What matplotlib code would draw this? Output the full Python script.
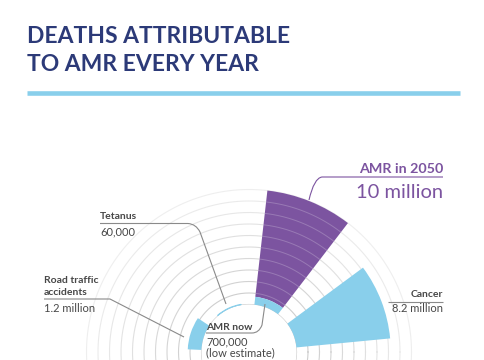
import numpy as np
import matplotlib
matplotlib.use('Agg')
import matplotlib.pyplot as plt
from matplotlib.path import Path
from matplotlib.patches import PathPatch

plt.rcParams['font.family'] = ['Lato', 'DejaVu Sans']

# data (deaths per year, millions)
categories = ['Cancer', 'AMR in 2050', 'Tetanus', 'Road traffic accidents']
deaths_m = [8.2, 10.0, 0.06, 1.2]
amr_now_m = 0.7
labels = ['Cancer', 'AMR in 2050', 'Tetanus', 'Road traffic\naccidents']
value_labels = ['8.2 million', '10 million', '60,000', '1.2 million']

BLUE = '#89cfeb'
PURPLE = '#7c54a0'
NAVY = '#2c3a78'
GREY_TXT = '#474747'
LEAD = '#8a8a8a'

W, H = 485, 360
fig = plt.figure(figsize=(W / 100, H / 100), dpi=100)

# polar axes geometry in pixels
cx, cy = 249, 352          # centre (y from top)
px_per_m = 11.5
r0_px = 47.5
rmax = 10.5
rorig = -r0_px / px_per_m
R = (rmax - rorig) * px_per_m
ax = fig.add_axes([(cx - R) / W, (H - cy - R) / H, 2 * R / W, 2 * R / H],
                  projection='polar')
ax.set_ylim(0, rmax)
ax.set_rorigin(rorig)
ax.set_axis_off()

theta = np.deg2rad(21 + 47 * np.arange(len(categories)))
width = np.deg2rad(31)

# grid rings, fading outwards
t = np.linspace(0, 2 * np.pi, 400)
for k in range(0, 11):
    a = 0.95 - 0.065 * k
    ax.plot(t, np.full_like(t, k), color='#c8c8c8', lw=0.8, alpha=a, zorder=1)

bottoms = [0, amr_now_m, 0, 0]
heights = [v - b for v, b in zip(deaths_m, bottoms)]
colors = [BLUE, PURPLE, BLUE, BLUE]
ax.bar(theta, heights, width=width, bottom=bottoms, color=colors,
       edgecolor=colors, linewidth=[0, 0, 0.9, 0], zorder=2)
# AMR now base under the 2050 bar
ax.bar(theta[1], amr_now_m, width=width, bottom=0, color=BLUE, lw=0, zorder=2)

# faint rings showing through the 2050 bar
tp = np.linspace(theta[1] - width / 2, theta[1] + width / 2, 60)
for k in range(1, 10):
    ax.plot(tp, np.full_like(tp, k), color='white', lw=0.7, alpha=0.22, zorder=3)

# overlay in pixel coordinates for text and leaders
ov = fig.add_axes([0, 0, 1, 1])
ov.set_xlim(0, W)
ov.set_ylim(H, 0)
ov.axis('off')
ov.patch.set_alpha(0)

ov.text(27, 43, 'DEATHS ATTRIBUTABLE', fontsize=16.5, fontweight='bold',
        color=NAVY, va='baseline')
ov.text(27, 71, 'TO AMR EVERY YEAR', fontsize=16.5, fontweight='bold',
        color=NAVY, va='baseline')
ov.plot([27, 460], [92.5, 92.5], color=BLUE, lw=3.3, solid_capstyle='butt')


def leader(pts, codes=None):
    if codes is None:
        codes = [Path.MOVETO] + [Path.LINETO] * (len(pts) - 1)
    ov.add_patch(PathPatch(Path(pts, codes), fill=False, edgecolor=LEAD, lw=0.8))


lab_kw = dict(fontsize=7.5, fontweight='bold', color=GREY_TXT, va='baseline')
val_kw = dict(fontsize=8, color=GREY_TXT, va='baseline')

# AMR in 2050
ov.text(443, 173, labels[1], fontsize=10.3, fontweight='bold', color=PURPLE,
        ha='right', va='baseline')
ov.text(443, 198, value_labels[1], fontsize=14.5, color=PURPLE,
        ha='right', va='baseline')
ov.add_patch(PathPatch(Path([(443, 177), (322, 177), (314, 178), (309, 200)],
                            [Path.MOVETO, Path.LINETO, Path.CURVE3, Path.CURVE3]),
                       fill=False, edgecolor=PURPLE, lw=0.8))

# Cancer
ov.text(443, 297, labels[0], ha='right', **lab_kw)
ov.text(443, 312, value_labels[0], ha='right', **val_kw)
leader([(388, 302), (443, 302)])

# Tetanus
ov.text(100, 219, labels[2], ha='left', **lab_kw)
ov.text(100, 235, value_labels[2], ha='left', **val_kw)
leader([(100, 223.5), (188, 223.5), (196, 224), (200, 232), (226, 304)],
       [Path.MOVETO, Path.LINETO, Path.CURVE3, Path.CURVE3, Path.LINETO])

# Road traffic accidents
ov.text(44, 283, 'Road traffic', ha='left', **lab_kw)
ov.text(44, 295, 'accidents', ha='left', **lab_kw)
ov.text(44, 311.5, value_labels[3], ha='left', **val_kw)
leader([(44, 299), (110, 299), (184, 337)])

# AMR now
ov.text(206, 330, 'AMR now', ha='left', **lab_kw)
ov.text(206, 345, '700,000', ha='left', **val_kw)
ov.text(206, 356, '(low estimate)', ha='left', **val_kw)
leader([(206, 333), (252, 333), (259, 333), (262, 325), (265, 304)],
       [Path.MOVETO, Path.LINETO, Path.CURVE3, Path.CURVE3, Path.LINETO])

fig.savefig('out.png', dpi=100)
